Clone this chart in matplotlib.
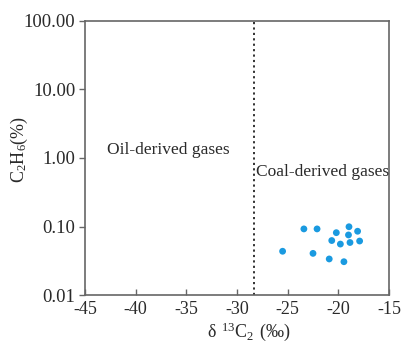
import matplotlib
matplotlib.use("Agg")
import matplotlib.pyplot as plt

plt.rcParams['font.family'] = ['Liberation Serif', 'DejaVu Serif']
plt.rcParams['mathtext.fontset'] = 'custom'
plt.rcParams['mathtext.rm'] = 'Liberation Serif'

# Ethane carbon isotope (‰) vs ethane content (%)
delta13c2 = [-23.4, -22.1, -18.95, -20.2, -18.1, -19.0, -20.65, -19.8, -18.85, -17.9,
             -25.5, -22.5, -20.9, -19.45]
c2h6 = [0.093, 0.093, 0.100, 0.082, 0.086, 0.076, 0.063, 0.056, 0.059, 0.062,
        0.044, 0.041, 0.034, 0.031]

boundary = -28.3
xticks = [-45, -40, -35, -30, -25, -20, -15]
yticks = [0.01, 0.1, 1, 10, 100]
ytick_labels = ["0.01", "0.10", "1.00", "10.00", "100.00"]

fig = plt.figure(figsize=(4.02, 3.44), dpi=100)
ax = fig.add_axes([0.2114, 0.141, 0.7563, 0.7994])

ax.set_yscale('log')
ax.set_xlim(-45, -15)
ax.set_ylim(0.01, 100)

ax.scatter(delta13c2, c2h6, s=24, color='#1a9ae0', edgecolors='none', zorder=3)
ax.axvline(boundary, color='#222222', linestyle=(0, (1.2, 1.8)), linewidth=1.3)

ax.text(-42.8, 1.3, "Oil-derived gases", fontsize=12.5, ha='left', va='center', color='#2a2a2a')
ax.text(-28.1, 0.62, "Coal-derived gases", fontsize=12.5, ha='left', va='center', color='#2a2a2a')

ax.set_xticks(xticks)
ax.set_xticklabels([str(t) for t in xticks])
ax.set_yticks(yticks)
ax.set_yticklabels(ytick_labels)
ax.yaxis.set_minor_locator(matplotlib.ticker.NullLocator())

ax.tick_params(axis='x', direction='in', length=4, width=1, color='#666666',
               labelsize=13, pad=4, labelcolor='#2a2a2a')
ax.tick_params(axis='y', direction='out', length=4, width=1, color='#666666',
               labelsize=13.5, pad=3, labelcolor='#2a2a2a')

for sp in ax.spines.values():
    sp.set_color('#666666')
    sp.set_linewidth(1.2)

ax.set_xlabel(r"$\mathrm{\delta\ ^{13}C_{2}\ (‰)}$", fontsize=13, color='#2a2a2a')
ax.set_ylabel(r"$\mathrm{C_{2}H_{6}(\%)}$", fontsize=13, color='#2a2a2a')
ax.xaxis.set_label_coords(0.54, -0.092)
ax.xaxis.label.set_va('top')
ax.yaxis.set_label_coords(-0.214, 0.53)
ax.yaxis.label.set_va('center')

fig.savefig("out.png", dpi=100)
